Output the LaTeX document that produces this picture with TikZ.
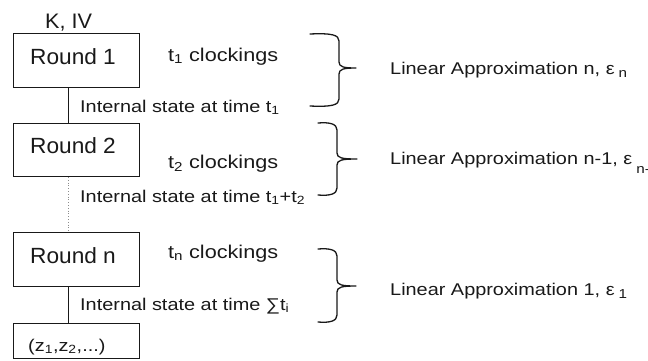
\documentclass[tikz,border=0pt]{standalone}
\usepackage{fontspec}
\setmainfont{Liberation Sans}
\newfontfamily\boxfont[FakeStretch=1.03]{Liberation Sans}
\newfontfamily\notefont[FakeStretch=1.17]{Liberation Sans}

\begin{document}
\begin{tikzpicture}[x=1pt,y=-1pt,
  ink/.style={draw=black!90, line width=1pt},
  roundbox/.style={ink, anchor=north west, inner sep=0, minimum width=126pt},
  boxlabel/.style={anchor=base west, inner sep=0, text=black!90,
    font=\boxfont\fontsize{22}{22}\selectfont},
  clocklabel/.style={anchor=base west, inner sep=0, text=black!90,
    font=\notefont\fontsize{18.5}{18.5}\selectfont},
  statelabel/.style={anchor=base west, inner sep=0, text=black!90,
    font=\notefont\fontsize{17}{17}\selectfont},
  approxlabel/.style={anchor=base west, inner sep=0, text=black!90,
    font=\notefont\fontsize{17}{17}\selectfont},
  bracepath/.style={draw=black!90, line width=1.3pt, line cap=round, line join=round}]

\useasboundingbox (0,0) rectangle (648,360);

% key / IV input
\node[boxlabel, font=\boxfont\fontsize{21}{21}\selectfont] (key) at (45,28) {K, IV};

% round boxes
\node[roundbox, minimum height=54pt] (r1) at (13,33) {};
\node[roundbox, minimum height=53pt] (r2) at (13,123) {};
\node[roundbox, minimum height=54pt] (rn) at (13,232) {};
\node[roundbox, minimum height=35pt] (out) at (13,323) {};

\node[boxlabel] (r1t) at (30,64) {Round 1};
\node[boxlabel] (r2t) at (30,153) {Round 2};
\node[boxlabel] (rnt) at (30,263) {Round n};
\node[statelabel] (outt) at (28,351) {(z\textsubscript{1},z\textsubscript{2},...)};

% links between rounds
\draw[ink] ([xshift=55pt]r1.south west) -- ([xshift=55pt]r2.north west);
\draw[draw=black!45, line width=0.8pt, dotted] ([xshift=55pt]r2.south west) -- ([xshift=55pt]rn.north west);
\draw[ink] ([xshift=55pt]rn.south west) -- ([xshift=55pt]out.north west);

% clockings and internal states
\node[clocklabel] (c1) at (168,61) {t\textsubscript{1} clockings};
\node[clocklabel] (c2) at (168,168) {t\textsubscript{2} clockings};
\node[clocklabel] (cn) at (168,258) {t\textsubscript{n} clockings};

\node[statelabel] (s1) at (80,112) {Internal state at time t\textsubscript{1}};
\node[statelabel] (s2) at (80,202) {Internal state at time t\textsubscript{1}+t\textsubscript{2}};
\node[statelabel] (sn) at (80,310) {Internal state at time ∑t\textsubscript{i}};

% right curly braces: left end x, top y, stem x, tip y, tip x, bottom y
\foreach \xl/\ya/\xv/\ym/\xt/\yb in {310/34/339/68/356/106, 318/123/337/159/357/195, 318/249/337/286/356/322}{
  \path[bracepath] (\xl,\ya) .. controls (\xv-7,\ya-1) and (\xv,\ya+1) .. (\xv,\ya+7)
    -- (\xv,\ym-6) .. controls (\xv,\ym-1) and (\xv+5,\ym) .. (\xt,\ym)
    .. controls (\xv+5,\ym) and (\xv,\ym+1) .. (\xv,\ym+6)
    -- (\xv,\yb-7) .. controls (\xv,\yb-1) and (\xv-7,\yb+1) .. (\xl,\yb);
}

% linear approximations
\node[approxlabel] (a1) at (390,74) {Linear Approximation n, ε\hspace{4pt}\raisebox{-3pt}{\fontsize{13}{13}\selectfont n}};
\node[approxlabel] (a2) at (390,164) {Linear Approximation n-1, ε\hspace{4pt}\raisebox{-9pt}{\fontsize{13}{13}\selectfont n-1}};
\node[approxlabel] (a3) at (390,295) {Linear Approximation 1, ε\hspace{4pt}\raisebox{-3pt}{\fontsize{13}{13}\selectfont 1}};

\end{tikzpicture}
\end{document}
